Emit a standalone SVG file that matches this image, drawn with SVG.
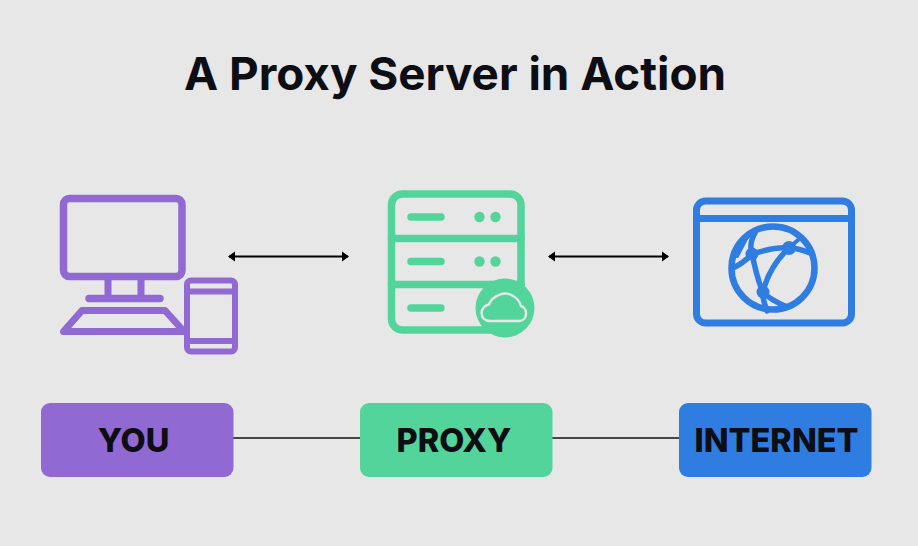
<svg xmlns="http://www.w3.org/2000/svg" width="918" height="546" viewBox="0 0 918 546">
<style>
.t{font-family:Inter,"Liberation Sans",sans-serif;font-weight:700;fill:#0d0d14}
.lb{font-size:32.500px;font-weight:800;text-anchor:middle}
.p{fill:none;stroke:#9169d2;stroke-linejoin:round;stroke-linecap:round}
.g{fill:none;stroke:#52d49b;stroke-linejoin:round;stroke-linecap:round}
.gf{fill:#52d49b}
.b{fill:none;stroke:#2f7de1;stroke-linejoin:round;stroke-linecap:round}
.c{stroke:#111;stroke-width:1.600;fill:none}
.a{stroke:#000;stroke-width:2;fill:none}
</style>
<defs>
<marker id="ah" markerUnits="userSpaceOnUse" markerWidth="8" markerHeight="12" refX="6" refY="6" orient="auto-start-reverse"><path d="M0 1L7 6L0 11Z" fill="#000"/></marker>
</defs>
<rect width="918" height="546" fill="#e7e7e7"/>
<text id="title" class="t" x="455" y="90" font-size="45.800" text-anchor="middle">A Proxy Server in Action</text>
<g id="connectors">
<line class="a" x1="229" y1="256.500" x2="348" y2="256.500" marker-start="url(#ah)" marker-end="url(#ah)"/>
<line class="a" x1="549" y1="256.500" x2="668" y2="256.500" marker-start="url(#ah)" marker-end="url(#ah)"/>
<line class="c" x1="233" y1="438" x2="361" y2="438"/>
<line class="c" x1="552" y1="438" x2="680" y2="438"/>
</g>
<g id="icon-you">
<rect class="p" x="63.500" y="198.500" width="118.500" height="78" rx="6" stroke-width="7.500"/>
<path class="p" stroke-width="7" d="M108 280V298M141 280V298"/>
<path class="p" stroke-width="7.500" d="M89 298.500H160"/>
<path class="p" stroke-width="7" d="M82 310.500H165L184 331.500H63.500Z"/>
<rect class="p" x="187" y="280.500" width="48" height="71" rx="4" stroke-width="6"/>
<path class="p" stroke-width="6" d="M187 291.500H235M187 341H235"/>
</g>
<g id="icon-proxy">
<rect class="g" x="391.500" y="194" width="129.500" height="136" rx="11" stroke-width="7.500"/>
<path class="g" stroke-width="7.500" d="M391.500 238.500H521M391.500 284.500H521"/>
<path class="g" stroke-width="7.500" d="M411 217H441M411 261.500H441M411 308H441"/>
<circle class="gf" cx="479.500" cy="217" r="5.200"/><circle class="gf" cx="495.500" cy="217" r="5.200"/>
<circle class="gf" cx="479.500" cy="261.500" r="5.200"/><circle class="gf" cx="495.500" cy="261.500" r="5.200"/>
<circle class="gf" cx="505" cy="308" r="29.500"/>
<path d="M490 321C479 321 479 306 489 304.500C492 296 505 290 513 296C519 299 521 306 521 306C528 308 528 321 519 321Z" fill="none" stroke="#e7e7e7" stroke-width="2.500"/>
</g>
<g id="icon-internet">
<rect class="b" x="696.500" y="201" width="155" height="122" rx="9" stroke-width="7"/>
<path class="b" stroke-width="7" d="M696.500 218.500H851.500"/>
<circle class="b" cx="773" cy="268" r="41.500" stroke-width="6.500"/>
<path class="b" stroke-width="5.500" d="M733 268C745 262 748 258 752 254C765 250 778 247 789 248C797 248 803 250 810 253"/>
<path class="b" stroke-width="5.500" d="M755 233C751 240 750 248 752 254C755 268 758 282 763 292C768 298 778 303 787 307"/>
<path class="b" stroke-width="5.500" d="M789 248C778 258 767 274 763 292C762 298 765 305 767 311"/>
<path class="b" stroke-width="4" d="M749 233L737 256M789 248L798 240"/>
<circle cx="752" cy="254" r="6.500" fill="#2f7de1"/><circle cx="789" cy="248" r="7" fill="#2f7de1"/><circle cx="763" cy="292" r="6.500" fill="#2f7de1"/>
</g>
<g id="node-you"><rect x="41" y="403" width="192.500" height="74" rx="9" fill="#9169d2"/><text class="t lb" x="133.500" y="452">YOU</text></g>
<g id="node-proxy"><rect x="360" y="403" width="192.500" height="74" rx="9" fill="#52d49b"/><text class="t lb" x="454" y="452">PROXY</text></g>
<g id="node-internet"><rect x="679" y="403" width="192.500" height="74" rx="9" fill="#2f7de1"/><text class="t lb" x="776.500" y="452">INTERNET</text></g>
</svg>
